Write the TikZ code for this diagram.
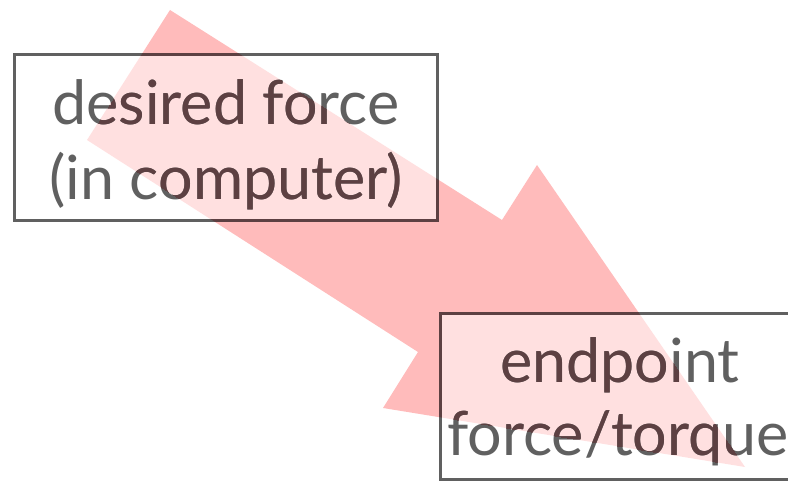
\documentclass[tikz,border=0pt]{standalone}
\usepackage{fontspec}
\setmainfont{Lato}
\definecolor{arrowpink}{RGB}{255,187,187}
\definecolor{inkgray}{RGB}{96,96,96}
\definecolor{inktint}{RGB}{93,64,66}

% outline of the big arrow
\def\arrowoutline{(170,10) -- (502,220) -- (537,165) -- (745,467) -- (383,408) -- (418,352) -- (87,140) -- cycle}

% the two framed boxes, drawn in a given colour; #2 is a name suffix
\newcommand\frames[2]{%
  \node[framebox, draw=#1, minimum width=422.5pt, minimum height=166pt] (src#2) at (225.75,138) {};
  \node[framebox, draw=#1, minimum width=358pt, minimum height=165.5pt] (dst#2) at (619,396.75) {};
}
% the texts inside the boxes
\newcommand\boxtexts[2]{%
  \node[linetext, text=#1] (srcA#2) at (226,125) {desired force};
  \node[linetext, text=#1] (srcB#2) at (226,200) {(in computer)};
  \node[linetext, text=#1] (dstA#2) at (620,382) {endpoint};
  \node[linetext, text=#1] (dstB#2) at (618,455) {force/torque};
}

\begin{document}
\begin{tikzpicture}[x=1pt, y=-1pt,
  framebox/.style={line width=3pt, inner sep=0pt, outer sep=0pt},
  linetext/.style={anchor=base, inner sep=0pt, font=\fontsize{61}{61}\selectfont}]
  \clip (0,0) rectangle (788,481);
  % arrow
  \fill[arrowpink] \arrowoutline;
  % translucent white box fills
  \begin{scope}[every node/.append style={fill=white, fill opacity=0.55}]
    \node[framebox, minimum width=422.5pt, minimum height=166pt] (srcfill) at (225.75,138) {};
    \node[framebox, minimum width=358pt, minimum height=165.5pt] (dstfill) at (619,396.75) {};
  \end{scope}
  \frames{inkgray}{}
  \boxtexts{inkgray}{}
  % the parts lying on the arrow take its tint
  \begin{scope}
    \clip \arrowoutline;
    \frames{inktint}{t}
    \boxtexts{inktint}{t}
  \end{scope}
\end{tikzpicture}
\end{document}
